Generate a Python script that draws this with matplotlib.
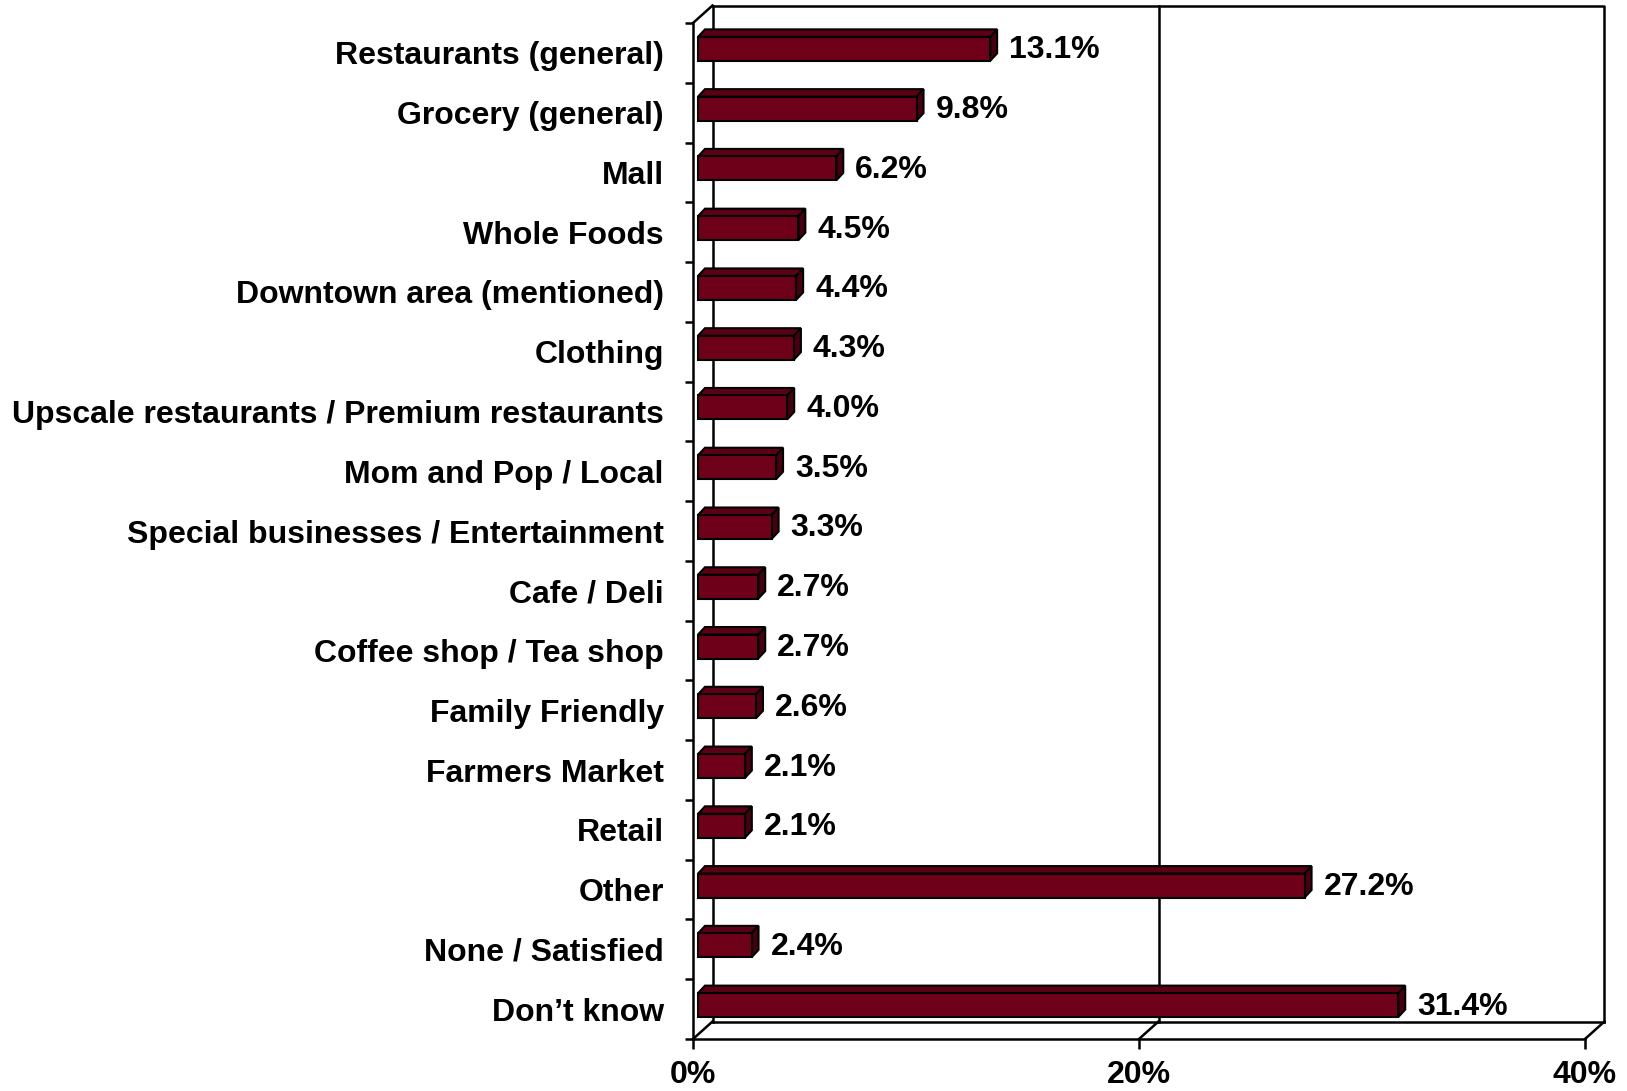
import matplotlib
matplotlib.use("Agg")
import matplotlib.pyplot as plt
from matplotlib.patches import Polygon

plt.rcParams['font.family'] = ['Liberation Sans', 'DejaVu Sans']

categories = [
    "Restaurants (general)", "Grocery (general)", "Mall", "Whole Foods",
    "Downtown area (mentioned)", "Clothing",
    "Upscale restaurants / Premium restaurants", "Mom and Pop / Local",
    "Special businesses / Entertainment", "Cafe / Deli",
    "Coffee shop / Tea shop", "Family Friendly", "Farmers Market", "Retail",
    "Other", "None / Satisfied", "Don\u2019t know",
]
values = [13.1, 9.8, 6.2, 4.5, 4.4, 4.3, 4.0, 3.5, 3.3, 2.7, 2.7, 2.6,
          2.1, 2.1, 27.2, 2.4, 31.4]
xticks = [0, 20, 40]
xticklabels = ["0%", "20%", "40%"]

FRONT = '#6E0019'
TOP = '#5C0015'
SIDE = '#46000F'
FS = 23

W, H = 1627, 1091
fig = plt.figure(figsize=(W / 100, H / 100), dpi=100)
# front plane in pixels: x 693..1585, y 23..1039
ax = fig.add_axes([693 / W, (H - 1039) / H, 892 / W, 1016 / H])
n = len(categories)
ax.set_xlim(0, 40)
ax.set_ylim(n, 0)

pxx = 892 / 40.0
pxy = 1016 / n
# wall depth and bar geometry (pixels -> data)
wdx, wdy = 19.5 / pxx, -17.5 / pxy
bx0, by0 = 5 / pxx, -4 / pxy          # bar front face shift
bdx, bdy = 7 / pxx, -7.5 / pxy         # bar depth
bh = 24 / pxy                          # bar front height

lw = 1.8
kw = dict(color='black', lw=lw, clip_on=False, solid_capstyle='projecting')

# back wall, floor and gridlines
ax.plot([wdx, 40 + wdx, 40 + wdx], [wdy, wdy, n + wdy], **kw)
ax.plot([wdx, wdx], [wdy, n + wdy], **kw)
ax.plot([wdx, 40 + wdx], [n + wdy, n + wdy], **kw)
ax.plot([0, wdx], [0, wdy], **kw)
for t in xticks:
    ax.plot([t, t + wdx], [n, n + wdy], **kw)
    if 0 < t < 40:
        ax.plot([t + wdx, t + wdx], [wdy, n + wdy], **kw)

# bars
for i, v in enumerate(values):
    yc = i + 0.5 + by0
    yt, yb = yc - bh / 2, yc + bh / 2
    x0, x1 = bx0, bx0 + v
    front = [(x0, yt), (x1, yt), (x1, yb), (x0, yb)]
    top = [(x0, yt), (x0 + bdx, yt + bdy), (x1 + bdx, yt + bdy), (x1, yt)]
    side = [(x1, yt), (x1 + bdx, yt + bdy), (x1 + bdx, yb + bdy), (x1, yb)]
    for pts, c in ((top, TOP), (side, SIDE), (front, FRONT)):
        ax.add_patch(Polygon(pts, closed=True, facecolor=c, edgecolor='black',
                             lw=1.5, joinstyle='miter', zorder=3, clip_on=False))
    ax.text(x1 + bdx + 12 / pxx, yc + 1.5 / pxy, f"{v:.1f}%", ha='left', va='center',
            fontsize=FS, fontweight='bold', zorder=4)

# axes
for s in ('top', 'right'):
    ax.spines[s].set_visible(False)
for s in ('left', 'bottom'):
    ax.spines[s].set_linewidth(lw)
ax.set_yticks([i + 0.5 for i in range(n)])
ax.set_yticklabels(categories, fontsize=FS, fontweight='bold')
ax.set_yticks(list(range(n + 1)), minor=True)
ax.tick_params(axis='y', which='major', length=0, pad=21)
ax.tick_params(axis='y', which='minor', length=6, width=lw, direction='out')
ax.set_xticks(xticks)
ax.set_xticklabels(xticklabels, fontsize=FS, fontweight='bold')
ax.tick_params(axis='x', length=7, width=lw, direction='out', pad=8)
ax.patch.set_visible(False)

fig.savefig("out.png", dpi=100)
